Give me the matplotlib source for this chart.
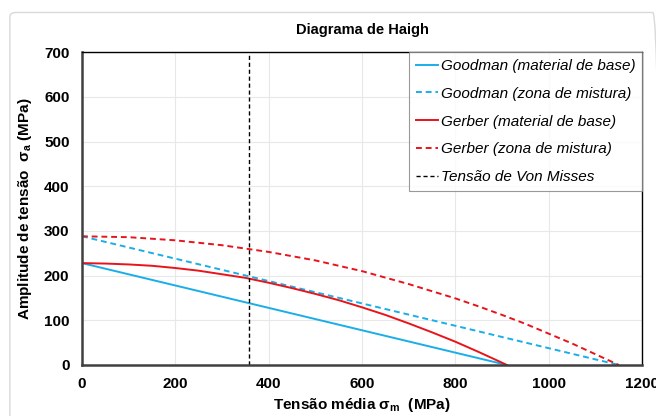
import matplotlib.pyplot as plt
from matplotlib.patches import FancyBboxPatch

plt.rcParams['font.family'] = ['Liberation Sans', 'DejaVu Sans']

# Goodman lines (straight, read end points)
goodman_base_x = [0, 910]
goodman_base_y = [228, 0]
goodman_mix_x = [0, 1150]
goodman_mix_y = [288, 0]

# Gerber curves
gerber_base_x = [0, 50, 100, 150, 200, 250, 300, 350, 400, 450, 500, 550, 600, 650, 700, 750, 800, 850, 900, 910]
gerber_base_y = [228, 227, 225, 222, 217, 211, 203, 195, 184, 172, 159, 145, 129, 112, 93, 73, 52, 29, 5, 0]
gerber_mix_x = [0, 100, 200, 300, 400, 500, 600, 700, 750, 800, 850, 900, 950, 1000, 1050, 1100, 1150]
gerber_mix_y = [288, 286, 279, 268, 253, 234, 210, 181, 165, 149, 131, 112, 92, 70, 48, 24, 0]

# Von Mises stress
von_mises = 358

fig = plt.figure(figsize=(6.56, 4.16), dpi=100)
ax = fig.add_axes([0.125, 0.1226, 0.854, 0.752])

# outer chart border
fig.patches.append(FancyBboxPatch((0.015, -0.02), 0.99, 0.99, boxstyle='round,pad=0,rounding_size=0.01',
                                  transform=fig.transFigure, fill=False, edgecolor='#d9d9d9', lw=1))

blue = '#1AAEE8'
red = '#E8141B'
ax.plot(goodman_base_x, goodman_base_y, color=blue, lw=1.4, label='Goodman (material de base)')
ax.plot(goodman_mix_x, goodman_mix_y, color=blue, lw=1.4, ls=(0, (3, 2)), label='Goodman (zona de mistura)')
ax.plot(gerber_base_x, gerber_base_y, color=red, lw=1.4, label='Gerber (material de base)')
ax.plot(gerber_mix_x, gerber_mix_y, color=red, lw=1.4, ls=(0, (3, 2)), label='Gerber (zona de mistura)')
ax.plot([von_mises, von_mises], [0, 700], color='black', lw=1.0, ls=(0, (3, 2)), label='Tensão de Von Misses')

ax.set_xlim(0, 1200)
ax.set_ylim(0, 700)
ax.set_xticks(range(0, 1201, 200))
ax.set_yticks(range(0, 701, 100))
ax.grid(True, color='#e8e8e8', lw=0.8)
ax.set_axisbelow(True)

for s in ['left', 'bottom']:
    ax.spines[s].set_linewidth(1.8)
    ax.spines[s].set_color('#404040')
for s in ['top', 'right']:
    ax.spines[s].set_linewidth(1.0)
    ax.spines[s].set_color('black')

ax.tick_params(length=0, pad=9, labelsize=11)
for lab in ax.get_xticklabels() + ax.get_yticklabels():
    lab.set_fontweight('bold')

ax.set_title('Diagrama de Haigh', fontsize=10.5, fontweight='bold', pad=13)
ax.set_xlabel('Tensão média σ$_\\mathregular{m}$  (MPa)', fontsize=11, fontweight='bold', labelpad=3)
ax.set_ylabel('Amplitude de tensão  σ$_\\mathregular{a}$ (MPa)', fontsize=11, fontweight='bold', labelpad=7)

leg = ax.legend(loc='upper right', bbox_to_anchor=(1.0, 1.0), prop={'style': 'italic', 'size': 11},
                frameon=True, fancybox=False, borderaxespad=0, handlelength=1.45, handletextpad=0.2,
                labelspacing=0.9, borderpad=0.45)
leg.get_frame().set_edgecolor('#808080')
leg.get_frame().set_linewidth(0.8)

fig.savefig('out.png', dpi=100)
